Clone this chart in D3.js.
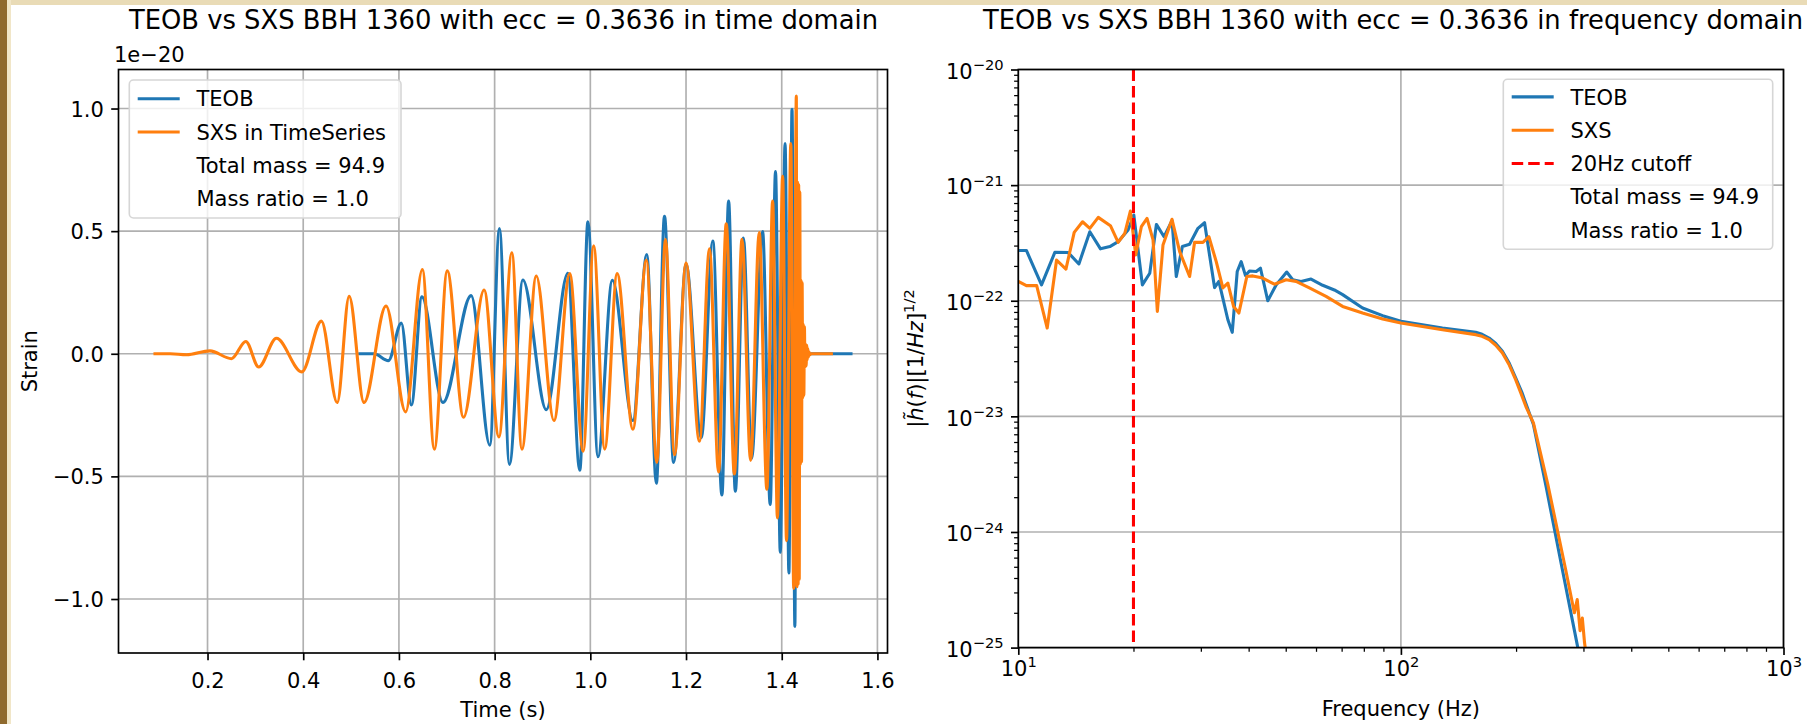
<!DOCTYPE html>
<html>
<head>
<meta charset="utf-8">
<script src="https://cdn.jsdelivr.net/npm/d3@7"></script>
<style>
  html, body { margin: 0; padding: 0; background: #fff; }
  svg { display: block; }
  text { font-family: "DejaVu Sans", sans-serif; fill: #000; }
</style>
</head>
<body>
<svg id="fig" width="1807" height="724"></svg>
<script>
// ---------------- data ----------------
// Strain in units of 1e-20, time in seconds: [t, h]
const teobWave = [[0.515,0],[0.548,0],[0.578,-0.028],[0.605,0.125],[0.626,-0.209],[0.648,0.232],[0.692,-0.199],
  [0.751,0.237],[0.790,-0.373],[0.810,0.511],[0.831,-0.451],[0.859,0.301],[0.908,-0.228],[0.953,0.328],[0.978,-0.475],
  [0.995,0.538],[1.016,-0.42],[1.046,0.30],[1.089,-0.272],[1.118,0.405],[1.138,-0.528],[1.155,0.561],[1.174,-0.443],
  [1.200,0.366],[1.232,-0.342],[1.256,0.46],[1.275,-0.576],[1.289,0.623],[1.303,-0.56],[1.320,0.472],[1.337,-0.428],
  [1.360,0.498],[1.376,-0.614],[1.387,0.743],[1.397,-0.809],[1.407,0.857],[1.415,-0.894],[1.4215,0.997],[1.4275,-1.112],
  [1.4305,0.55],[1.4330,-0.35],[1.4355,0.18],[1.4380,-0.09],[1.4405,0.04],[1.4430,-0.015],[1.447,0],[1.548,0]];

const sxsWave = [[0.087,0],[0.122,0],[0.156,-0.004],[0.205,0.012],[0.250,-0.02],[0.280,0.05],[0.307,-0.054],
  [0.344,0.063],[0.397,-0.074],[0.438,0.133],[0.471,-0.199],[0.496,0.234],[0.527,-0.199],[0.573,0.195],[0.614,-0.237],
  [0.649,0.343],[0.674,-0.389],[0.701,0.338],[0.735,-0.259],[0.778,0.26],[0.809,-0.339],[0.836,0.412],[0.857,-0.389],
  [0.887,0.317],[0.924,-0.272],[0.957,0.327],[0.985,-0.397],[1.007,0.44],[1.030,-0.389],[1.056,0.327],[1.089,-0.308],
  [1.117,0.382],[1.139,-0.443],[1.157,0.467],[1.176,-0.412],[1.200,0.37],[1.228,-0.357],[1.249,0.428],[1.268,-0.482],
  [1.284,0.53],[1.301,-0.49],[1.317,0.467],[1.335,-0.435],[1.353,0.494],[1.369,-0.552],[1.381,0.623],[1.391,-0.669],
  [1.402,0.724],[1.410,-0.762],[1.419,0.857],[1.425,-0.957],[1.4305,1.051],
  [1.4318,-0.95],[1.4330,0.70],[1.4342,-0.94],[1.4354,0.69],[1.4366,-0.92],[1.4378,0.66],[1.4390,-0.45],[1.4402,0.30],
  [1.4414,-0.44],[1.4426,0.29],[1.4438,-0.18],[1.4450,0.12],[1.4462,-0.17],[1.4474,0.11],[1.4486,-0.054],[1.4498,0.04],
  [1.4510,-0.05],[1.4522,0.035],[1.4534,-0.025],[1.4546,0.02],[1.4558,-0.012],[1.4570,0.008],[1.4582,-0.004],
  [1.4614,0],[1.507,0]];

// Frequency-domain amplitude |h(f)|: [f (Hz), amplitude]
const teobSpectrum = [[10,2.72e-22],[10.5,2.72e-22],[11.5,1.37e-22],[12.46,2.62e-22],[13.5,2.61e-22],[14.4,2.08e-22],
  [15.38,3.95e-22],[16.4,2.81e-22],[17.35,2.94e-22],[18.24,3.24e-22],[19.36,4.09e-22],[20.04,5.51e-22],[21.1,1.37e-22],
  [22.06,1.73e-22],[22.96,4.57e-22],[24.04,3.58e-22],[25.22,4.92e-22],[25.88,1.62e-22],[26.84,2.94e-22],[28.04,3.08e-22],
  [29.48,4.23e-22],[30.68,4.73e-22],[32.58,1.30e-22],[33.44,1.47e-22],[35.3,6.85e-23],[36.24,5.33e-23],[37.34,1.79e-22],
  [38.25,2.18e-22],[39.25,1.65e-22],[40.2,1.81e-22],[41.85,1.79e-22],[42.95,1.91e-22],[44.88,1.0e-22],[47.19,1.37e-22],
  [50.3,1.77e-22],[52.15,1.52e-22],[54.83,1.47e-22],[58.23,1.54e-22],[62.46,1.36e-22],[66.99,1.24e-22],[70.42,1.13e-22],
  [79.4,8.65e-23],[89.6,7.43e-23],[100,6.64e-23],[128.4,5.81e-23],[156.9,5.33e-23],[163,5.13e-23],[170,4.76e-23],
  [177,4.27e-23],[184.2,3.66e-23],[192,2.88e-23],[199.5,2.15e-23],[207,1.62e-23],[214,1.19e-23],[222,8.5e-24],
  [240,2.4e-24],[265,4.5e-25],[290,1.0e-25],[300,5.5e-26]];

const sxsSpectrum = [[10,1.47e-22],[10.5,1.35e-22],[11.17,1.35e-22],[11.9,5.81e-23],[12.59,2.25e-22],[13.32,1.88e-22],
  [14.0,3.90e-22],[14.72,4.82e-22],[15.38,4.23e-22],[16.18,5.26e-22],[17.41,4.46e-22],[18.24,3.20e-22],[18.98,3.83e-22],
  [19.63,5.96e-22],[20.27,2.49e-22],[20.97,4.37e-22],[21.7,5.15e-22],[22.5,3.36e-22],[23.09,8.09e-23],[23.89,3.04e-22],
  [25.22,5.06e-22],[26.41,2.66e-22],[28.04,1.62e-22],[28.89,3.20e-22],[30.38,3.20e-22],[31.49,3.58e-22],[32.91,2.18e-22],
  [34.25,1.29e-22],[35.3,1.42e-22],[36.53,8.93e-23],[37.72,7.83e-23],[39.57,1.62e-22],[41.02,1.64e-22],[43.55,1.57e-22],
  [46.7,1.39e-22],[50.1,1.52e-22],[53.2,1.47e-22],[57.65,1.29e-22],[63.73,1.09e-22],[70.42,8.93e-23],[79.4,7.83e-23],
  [89.6,6.95e-23],[100,6.41e-23],[128.4,5.62e-23],[156.9,5.09e-23],[163,4.92e-23],[170,4.61e-23],[177,4.12e-23],
  [184.2,3.54e-23],[192,2.78e-23],[199.5,2.08e-23],[206,1.58e-23],[212.8,1.19e-23],[222,8.8e-24],[242,2.6e-24],
  [270,4.6e-25],[284,2.0e-25],[289,2.6e-25],[294,1.4e-25],[298,1.8e-25],[302,1.1e-25],[306,8.0e-26]];

const cutoffFrequency = 20;
const totalMass = 94.9;
const massRatio = 1.0;

// axis ticks and limits
const timeTicks = [0.2, 0.4, 0.6, 0.8, 1.0, 1.2, 1.4, 1.6];
const strainTicks = [-1.0, -0.5, 0.0, 0.5, 1.0];
const freqLimits = [10, 1000];
const ampLimits = [1e-25, 1e-20];
const freqTicks = [10, 100, 1000];
const ampTicks = [1e-25, 1e-24, 1e-23, 1e-22, 1e-21, 1e-20];

// ---------------- styles ----------------
const C_TEOB = "#1f77b4", C_SXS = "#ff7f0e", C_GRID = "#b0b0b0";
const LW = 3.1, FS = 21, TITLE_FS = 25.8;
const TICK = 7.3, PAD = 7.3, MINOR = 4.2;

const svg = d3.select("#fig");
const W = 1807, H = 724;

// page background with a paper edge along the left and top
svg.append("rect").attr("width", W).attr("height", H).attr("fill", "#ffffff");
svg.append("rect").attr("x", 0).attr("y", 0).attr("width", W).attr("height", 5).attr("fill", "#e9dbb6");
svg.append("rect").attr("x", 0).attr("y", 0).attr("width", 11).attr("height", H).attr("fill", "#f1e6c8");
svg.append("rect").attr("x", 0).attr("y", 0).attr("width", 7).attr("height", H).attr("fill", "#8f6a2e");

const defs = svg.append("defs");

function styleTicks(g, width) {
  g.select(".domain").remove();
  g.selectAll(".tick line").attr("stroke", "#000").attr("stroke-width", width);
}

function legend(frame, rows, textX, handleX0, handleX1, y0, step) {
  const g = svg.append("g");
  g.append("rect").attr("x", frame[0]).attr("y", frame[1]).attr("width", frame[2]).attr("height", frame[3])
    .attr("rx", 4.2).attr("fill", "#fff").attr("fill-opacity", 0.8)
    .attr("stroke", "#d6d6d6").attr("stroke-width", 1.6);
  rows.forEach((r, i) => {
    const y = y0 + i * step;
    if (r.color) {
      g.append("line").attr("x1", handleX0).attr("x2", handleX1).attr("y1", y).attr("y2", y)
        .attr("stroke", r.color).attr("stroke-width", LW)
        .attr("stroke-dasharray", r.dash || null);
    }
    g.append("text").attr("x", textX).attr("y", y + 7.6).attr("font-size", FS).text(r.label);
  });
}

// ================= time domain panel =================
const A = { x0: 118.5, x1: 887.5, y0: 69.5, y1: 653 };
const withMargin = e => { const s = e[1] - e[0]; return [e[0] - 0.05 * s, e[1] + 0.05 * s]; };
const allWave = teobWave.concat(sxsWave);
const xT = d3.scaleLinear().domain(withMargin(d3.extent(allWave, d => d[0]))).range([A.x0, A.x1]);
const yT = d3.scaleLinear().domain(withMargin(d3.extent(allWave, d => d[1]))).range([A.y1, A.y0]);

defs.append("clipPath").attr("id", "clipT").append("rect")
  .attr("x", A.x0).attr("y", A.y0).attr("width", A.x1 - A.x0).attr("height", A.y1 - A.y0);
defs.append("clipPath").attr("id", "clipF").append("rect")
  .attr("x", 1018.3).attr("y", 69.5).attr("width", 1783.5 - 1018.3).attr("height", 647.6 - 69.5);

const gridT = svg.append("g").attr("stroke", C_GRID).attr("stroke-width", 1.67);
timeTicks.forEach(t => gridT.append("line").attr("x1", xT(t)).attr("x2", xT(t)).attr("y1", A.y0).attr("y2", A.y1));
strainTicks.forEach(s => gridT.append("line").attr("y1", yT(s)).attr("y2", yT(s)).attr("x1", A.x0).attr("x2", A.x1));

const waveLine = d3.line().x(d => xT(d[0])).y(d => yT(d[1])).curve(d3.curveMonotoneX);
const gT = svg.append("g").attr("clip-path", "url(#clipT)");
gT.append("path").datum(teobWave).attr("d", waveLine).attr("fill", "none")
  .attr("stroke", C_TEOB).attr("stroke-width", LW).attr("stroke-linejoin", "round");
gT.append("path").datum(sxsWave).attr("d", waveLine).attr("fill", "none")
  .attr("stroke", C_SXS).attr("stroke-width", LW).attr("stroke-linejoin", "round");

svg.append("rect").attr("x", A.x0).attr("y", A.y0).attr("width", A.x1 - A.x0).attr("height", A.y1 - A.y0)
  .attr("fill", "none").attr("stroke", "#000").attr("stroke-width", 1.67);

const axT = svg.append("g").attr("transform", `translate(0,${A.y1})`)
  .call(d3.axisBottom(xT).tickValues(timeTicks).tickFormat(d3.format(".1f")).tickSizeInner(TICK).tickSizeOuter(0));
styleTicks(axT, 1.67);
axT.selectAll(".tick text").attr("y", 35).attr("dy", null).attr("font-size", FS).attr("fill", "#000");

const ayT = svg.append("g").attr("transform", `translate(${A.x0},0)`)
  .call(d3.axisLeft(yT).tickValues(strainTicks).tickFormat(d3.format(".1f")).tickSizeInner(TICK).tickSizeOuter(0));
styleTicks(ayT, 1.67);
ayT.selectAll(".tick text").attr("x", -(TICK + PAD)).attr("dy", "0.36em").attr("font-size", FS).attr("fill", "#000");

svg.append("text").attr("x", 114).attr("y", 62).attr("font-size", FS).text("1e\u221220");
svg.append("text").attr("x", (A.x0 + A.x1) / 2).attr("y", 717).attr("text-anchor", "middle").attr("font-size", FS).text("Time (s)");
svg.append("text").attr("transform", `translate(36.5,${(A.y0 + A.y1) / 2}) rotate(-90)`)
  .attr("text-anchor", "middle").attr("font-size", FS).text("Strain");
svg.append("text").attr("x", 503.5).attr("y", 29).attr("text-anchor", "middle").attr("font-size", TITLE_FS)
  .text("TEOB vs SXS BBH 1360 with ecc = 0.3636 in time domain");

legend([129.3, 80, 271.7, 138], [
  { label: "TEOB", color: C_TEOB },
  { label: "SXS in TimeSeries", color: C_SXS },
  { label: `Total mass = ${totalMass}`, color: null },
  { label: `Mass ratio = ${massRatio.toFixed(1)}`, color: null }
], 196.5, 137.7, 179.7, 98.7, 33.3);

// ================= frequency domain panel =================
const B = { x0: 1018.3, x1: 1783.5, y0: 69.5, y1: 647.6 };
const xF = d3.scaleLog().domain(freqLimits).range([B.x0, B.x1]);
const yF = d3.scaleLog().domain(ampLimits).range([B.y1, B.y0]);

const gridF = svg.append("g").attr("stroke", C_GRID).attr("stroke-width", 1.67);
freqTicks.forEach(f => gridF.append("line").attr("x1", xF(f)).attr("x2", xF(f)).attr("y1", B.y0).attr("y2", B.y1));
ampTicks.forEach(a => gridF.append("line").attr("y1", yF(a)).attr("y2", yF(a)).attr("x1", B.x0).attr("x2", B.x1));

const specLine = d3.line().x(d => xF(d[0])).y(d => yF(d[1]));
const gF = svg.append("g").attr("clip-path", "url(#clipF)");
gF.append("path").datum(teobSpectrum).attr("d", specLine).attr("fill", "none")
  .attr("stroke", C_TEOB).attr("stroke-width", LW).attr("stroke-linejoin", "round");
gF.append("path").datum(sxsSpectrum).attr("d", specLine).attr("fill", "none")
  .attr("stroke", C_SXS).attr("stroke-width", LW).attr("stroke-linejoin", "round");
gF.append("line").attr("x1", xF(cutoffFrequency)).attr("x2", xF(cutoffFrequency)).attr("y1", B.y0).attr("y2", B.y1)
  .attr("stroke", "red").attr("stroke-width", LW).attr("stroke-dasharray", "11.5,5");

svg.append("rect").attr("x", B.x0).attr("y", B.y0).attr("width", B.x1 - B.x0).attr("height", B.y1 - B.y0)
  .attr("fill", "none").attr("stroke", "#000").attr("stroke-width", 1.67);

// minor ticks on both log axes
const isMajor = v => Math.abs(Math.log10(v) - Math.round(Math.log10(v))) < 1e-9;
const minorF = xF.ticks().filter(v => !isMajor(v));
const minorA = yF.ticks().filter(v => !isMajor(v));
styleTicks(svg.append("g").attr("transform", `translate(0,${B.y1})`)
  .call(d3.axisBottom(xF).tickValues(minorF).tickFormat("").tickSizeInner(MINOR).tickSizeOuter(0)), 1.25);
styleTicks(svg.append("g").attr("transform", `translate(${B.x0},0)`)
  .call(d3.axisLeft(yF).tickValues(minorA).tickFormat("").tickSizeInner(MINOR).tickSizeOuter(0)), 1.25);

// major ticks with power-of-ten labels
const pow10 = (text, v, sup) => {
  const e = Math.round(Math.log10(v));
  text.text(null);
  text.append("tspan").text("10");
  text.append("tspan").attr("dy", -sup).attr("font-size", FS * 0.7).text(String(e).replace("-", "\u2212"));
};
const axF = svg.append("g").attr("transform", `translate(0,${B.y1})`)
  .call(d3.axisBottom(xF).tickValues(freqTicks).tickSizeInner(TICK).tickSizeOuter(0));
styleTicks(axF, 1.67);
axF.selectAll(".tick text").attr("y", 28).attr("dy", null).attr("font-size", FS).attr("fill", "#000")
  .each(function (d) { pow10(d3.select(this), d, 8.6); });

const ayF = svg.append("g").attr("transform", `translate(${B.x0},0)`)
  .call(d3.axisLeft(yF).tickValues(ampTicks).tickSizeInner(TICK).tickSizeOuter(0));
styleTicks(ayF, 1.67);
ayF.selectAll(".tick text").attr("x", -(TICK + PAD)).attr("dy", 8.8).attr("font-size", FS).attr("fill", "#000")
  .each(function (d) { pow10(d3.select(this), d, 8.6); });

svg.append("text").attr("x", (B.x0 + B.x1) / 2).attr("y", 716).attr("text-anchor", "middle").attr("font-size", FS)
  .text("Frequency (Hz)");

const yl = svg.append("text").attr("transform", `translate(923,${(B.y0 + B.y1) / 2}) rotate(-90)`)
  .attr("text-anchor", "middle").attr("font-size", FS);
yl.append("tspan").text("|");
yl.append("tspan").attr("font-style", "italic").text("h\u0303");
yl.append("tspan").text("(");
yl.append("tspan").attr("font-style", "italic").text("f");
yl.append("tspan").text(")|[1/");
yl.append("tspan").attr("font-style", "italic").text("Hz");
yl.append("tspan").text("]");
yl.append("tspan").attr("dy", -8.6).attr("font-size", FS * 0.7).text("1/2");

svg.append("text").attr("x", 1393).attr("y", 29).attr("text-anchor", "middle").attr("font-size", TITLE_FS)
  .text("TEOB vs SXS BBH 1360 with ecc = 0.3636 in frequency domain");

legend([1503.3, 79.3, 269.4, 170], [
  { label: "TEOB", color: C_TEOB },
  { label: "SXS", color: C_SXS },
  { label: `${cutoffFrequency}Hz cutoff`, color: "red", dash: "11.5,5" },
  { label: `Total mass = ${totalMass}`, color: null },
  { label: `Mass ratio = ${massRatio.toFixed(1)}`, color: null }
], 1570.5, 1511.7, 1553.7, 96.9, 33.3);
</script>
</body>
</html>
